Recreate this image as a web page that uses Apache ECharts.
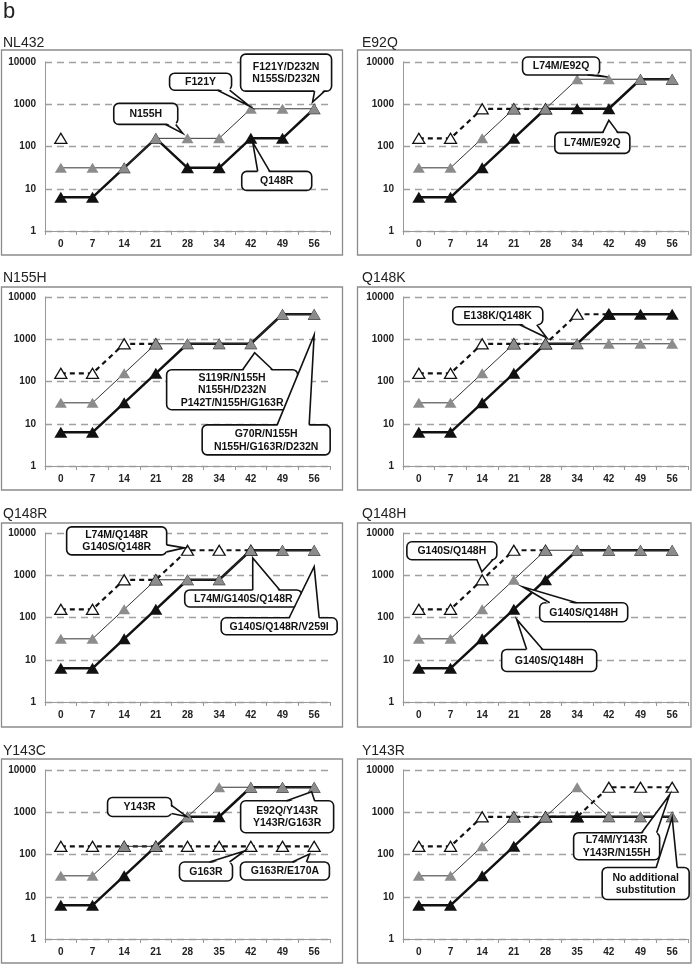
<!DOCTYPE html>
<html>
<head>
<meta charset="utf-8">
<script src="https://cdn.jsdelivr.net/npm/echarts@6/dist/echarts.min.js"></script>
<style>
  html, body { margin: 0; padding: 0; background: #fff; }
  #chart { width: 700px; height: 964px; }
</style>
</head>
<body>
<div id="chart"></div>
<script>
// x categories (days)
const days = ["0", "7", "14", "21", "28", "34", "42", "49", "56"];
const days35 = ["0", "7", "14", "21", "28", "35", "42", "49", "56"];
const panelTitles = ["NL432", "E92Q", "N155H", "Q148K", "Q148R", "Q148H", "Y143C", "Y143R"];
const panelDays = [days, days, days, days, days, days, days35, days35];
const yTicks = [1, 10, 100, 1000, 10000];

// black filled triangles, thick solid line
const solidBlack = [
  [6.25, 6.25, 31.25, 156, 31.25, 31.25, 156, 156, 781],
  [6.25, 6.25, 31.25, 156, 781, 781, 781, 3906, 3906],
  [6.25, 6.25, 31.25, 156, 781, 781, 781, 3906, 3906],
  [6.25, 6.25, 31.25, 156, 781, 781, 3906, 3906, 3906],
  [6.25, 6.25, 31.25, 156, 781, 781, 3906, 3906, 3906],
  [6.25, 6.25, 31.25, 156, 781, 3906, 3906, 3906, 3906],
  [6.25, 6.25, 31.25, 156, 781, 781, 3906, 3906, 3906],
  [6.25, 6.25, 31.25, 156, 781, 781, 781, 781, 781]
];
// grey filled triangles, thin solid line
const solidGray = [
  [31.25, 31.25, 31.25, 156, 156, 156, 781, 781, 781],
  [31.25, 31.25, 156, 781, 781, 3906, 3906, 3906, 3906],
  [31.25, 31.25, 156, 781, 781, 781, 781, 3906, 3906],
  [31.25, 31.25, 156, 781, 781, 781, 781, 781, 781],
  [31.25, 31.25, 156, 781, 781, 781, 3906, 3906, 3906],
  [31.25, 31.25, 156, 781, 3906, 3906, 3906, 3906, 3906],
  [31.25, 31.25, 156, 156, 781, 3906, 3906, 3906, 3906],
  [31.25, 31.25, 156, 781, 781, 3906, 781, 781, 781]
];
// open triangles, dashed line
const dashedOpen = [
  [156, null, null, null, null, null, null, null, null],
  [156, 156, 781, 781, 781, null, null, null, null],
  [156, 156, 781, 781, null, null, null, null, null],
  [156, 156, 781, 781, 781, 3906, 3906, null, null],
  [156, 156, 781, 781, 3906, 3906, 3906, null, null],
  [156, 156, 781, 3906, 3906, null, null, null, null],
  [156, 156, 156, 156, 156, 156, 156, 156, 156],
  [156, 156, 781, 781, 781, 781, 3906, 3906, 3906]
];

// callout labels: anchor [category index, value], box and wedge base relative to the anchor
const callouts = [
  { panel: 0, text: "N155H", at: [3.85, 204], box: [-69, -30, 64, 21], base: [[-17, -9], [-7, -9]] },
  { panel: 0, text: "F121Y", at: [5.96, 900], box: [-80, -33, 62, 17], base: [[-32, -16], [-20, -16]] },
  { panel: 0, text: "F121Y/D232N\nN155S/D232N", at: [7.95, 1120], box: [-72, -48, 91, 37], base: [[2, -11], [12, -11]] },
  { panel: 0, text: "Q148R", at: [6.06, 125], box: [-11, 29, 70, 19], base: [[5, 29], [17, 29]] },
  { panel: 1, text: "L74M/E92Q", at: [5.96, 4400], box: [-85, -20, 77, 18], base: [[-20, -2], [-11, -2]] },
  { panel: 1, text: "L74M/E92Q", at: [6, 415], box: [-54, 12, 75, 21], base: [[-6, 12], [9, 12]] },
  { panel: 2, text: "S119R/N155H\nN155H/D232N\nP142T/N155H/G163R", at: [6.12, 480], box: [-88, 17, 131, 40], base: [[-12, 17], [18, 17]] },
  { panel: 2, text: "G70R/N155H\nN155H/G163R/D232N", at: [8.08, 1270], box: [-112, 90, 128, 30], base: [[-37, 90], [-5, 90]] },
  { panel: 3, text: "E138K/Q148K", at: [4.04, 1085], box: [-94, -31, 90, 18], base: [[-27, -13], [-10, -13]] },
  { panel: 4, text: "L74M/Q148R\nG140S/Q148R", at: [3.91, 4450], box: [-118, -21, 100, 28], base: [[-18, -3], [-18, 4]] },
  { panel: 4, text: "L74M/G140S/Q148R", at: [6.06, 2570], box: [-68, 32, 117, 17], base: [[0, 32], [27, 32]] },
  { panel: 4, text: "G140S/Q148R/V259I", at: [8.01, 1590], box: [-93, 51, 116, 17], base: [[-25, 51], [5, 51]] },
  { panel: 5, text: "G140S/Q148H", at: [1.99, 1210], box: [-75, -30, 90, 18], base: [[-5, -12], [11, -12]] },
  { panel: 5, text: "G140S/Q148H", at: [3.28, 535], box: [17, 16, 88, 19], base: [[27, 16], [54, 16]] },
  { panel: 5, text: "G140S/Q148H", at: [3.09, 90], box: [-15, 30, 95, 22], base: [[10, 30], [26, 30]] },
  { panel: 6, text: "Y143R", at: [3.97, 795], box: [-79, -19, 64, 19], base: [[-15, -11], [-15, -3]] },
  { panel: 6, text: "E92Q/Y143R\nY143R/G163R", at: [7.92, 3055], box: [-71, 9, 93, 32], base: [[-25, 9], [3, 9]] },
  { panel: 6, text: "G163R", at: [5.8, 121], box: [-65, 11, 53, 19], base: [[-35, 11], [-15, 11]] },
  { panel: 6, text: "G163R/E170A", at: [7.85, 103], box: [-69, 8, 89, 18], base: [[-17, 8], [-3, 8]] },
  { panel: 7, text: "L74M/Y143R\nY143R/N155H", at: [7.92, 2600], box: [-96, 38, 86, 27], base: [[-28, 38], [-13, 38]] },
  { panel: 7, text: "No additional\nsubstitution", at: [8.01, 754], box: [-70, 50, 87, 32], base: [[-16, 50], [5, 50]] }
];

const FONT = '"Liberation Sans", Arial, sans-serif';
const colLeft = [45, 403];
const rowTop = [62, 297, 533, 770];
const frameX = [[1.5, 342.5], [357.5, 691]];
const frameY = [[50, 255], [287, 490], [523, 727], [759, 963]];

const chart = echarts.init(document.getElementById("chart"));

const grids = [], xAxes = [], yAxes = [], series = [], titles = [];
titles.push({ text: "b", left: 3, top: 1, padding: 0,
  textStyle: { fontSize: 22, fontWeight: "normal", color: "#222", fontFamily: FONT } });

for (let p = 0; p < 8; p++) {
  const col = p % 2, row = Math.floor(p / 2);
  grids.push({ left: colLeft[col], top: rowTop[row], width: 285, height: 169 });
  titles.push({
    text: panelTitles[p], left: col ? 362 : 3, top: rowTop[row] - 26, padding: 0,
    textStyle: { fontSize: 14, fontWeight: "normal", color: "#222", fontFamily: FONT }
  });
  xAxes.push({
    type: "category", gridIndex: p, data: panelDays[p], boundaryGap: true,
    axisLine: { lineStyle: { color: "#999", width: 1 } },
    axisTick: { show: true, length: 4, interval: 0, lineStyle: { color: "#999" } },
    axisLabel: { color: "#222", fontWeight: "bold", fontSize: 10, fontFamily: FONT, margin: 8, interval: 0 },
    splitLine: { show: false }
  });
  yAxes.push({
    type: "log", logBase: 10, gridIndex: p, min: yTicks[0], max: yTicks[yTicks.length - 1],
    axisLine: { show: true, lineStyle: { color: "#999", width: 1 } },
    axisTick: { show: false },
    axisLabel: { color: "#222", fontWeight: "bold", fontSize: 10, fontFamily: FONT, margin: 9,
      formatter: v => String(Math.round(v)) },
    splitLine: { show: true, lineStyle: { color: "#a0a0a0", width: 1.3, type: [7, 5] } }
  });
  series.push({
    type: "line", xAxisIndex: p, yAxisIndex: p, data: dashedOpen[p],
    symbol: "triangle", symbolSize: [12, 10], showSymbol: true, connectNulls: false,
    itemStyle: { color: "#fff", borderColor: "#111", borderWidth: 1.3 },
    lineStyle: { color: "#111", width: 2.2, type: [5, 4] }
  });
  series.push({
    type: "line", xAxisIndex: p, yAxisIndex: p, data: solidBlack[p],
    symbol: "triangle", symbolSize: [13, 11], showSymbol: true,
    itemStyle: { color: "#111" },
    lineStyle: { color: "#111", width: 2.5 }
  });
  series.push({
    type: "line", xAxisIndex: p, yAxisIndex: p, data: solidGray[p],
    symbol: "triangle", symbolSize: [12, 10], showSymbol: true,
    itemStyle: { color: "#8c8c8c" },
    lineStyle: { color: "#333", width: 1 }
  });
}

chart.setOption({
  animation: false,
  backgroundColor: "#fff",
  title: titles,
  grid: grids,
  xAxis: xAxes,
  yAxis: yAxes,
  series: series
});

// pixel position of an anchor, allowing fractional category index
function anchorPixel(p, idx, val) {
  const i0 = Math.floor(idx), i1 = Math.min(i0 + 1, 8);
  const a = chart.convertToPixel({ gridIndex: p }, [i0, val]);
  const b = chart.convertToPixel({ gridIndex: p }, [i1, val]);
  return [a[0] + (idx - i0) * (b[0] - a[0]), a[1]];
}

const elements = [];
// panel frames
for (let p = 0; p < 8; p++) {
  const col = p % 2, row = Math.floor(p / 2);
  elements.push({
    type: "rect", z: 1,
    shape: { x: frameX[col][0], y: frameY[row][0], width: frameX[col][1] - frameX[col][0], height: frameY[row][1] - frameY[row][0] },
    style: { fill: null, stroke: "#8c8c8c", lineWidth: 1.3 }
  });
}
// callouts
callouts.forEach(c => {
  const t = anchorPixel(c.panel, c.at[0], c.at[1]);
  const bx = t[0] + c.box[0], by = t[1] + c.box[1], bw = c.box[2], bh = c.box[3];
  const b1 = [t[0] + c.base[0][0], t[1] + c.base[0][1]];
  const b2 = [t[0] + c.base[1][0], t[1] + c.base[1][1]];
  const inward = pt => {
    if (Math.abs(pt[1] - by) < 1) return [pt[0], pt[1] + 2];
    if (Math.abs(pt[1] - (by + bh)) < 1) return [pt[0], pt[1] - 2];
    if (Math.abs(pt[0] - bx) < 1) return [pt[0] + 2, pt[1]];
    return [pt[0] - 2, pt[1]];
  };
  elements.push({ type: "rect", z: 100, shape: { x: bx, y: by, width: bw, height: bh, r: 5 },
    style: { fill: "#fff", stroke: "#111", lineWidth: 1.6 } });
  elements.push({ type: "polygon", z: 101, shape: { points: [inward(b1), t, inward(b2)] },
    style: { fill: "#fff", stroke: null } });
  elements.push({ type: "polyline", z: 102, shape: { points: [b1, t, b2] },
    style: { fill: null, stroke: "#111", lineWidth: 1.6 } });
  elements.push({ type: "text", z: 103, x: bx + bw / 2, y: by + bh / 2 + 0.5,
    style: { text: c.text, font: "bold 10.5px " + FONT, fill: "#111", align: "center", verticalAlign: "middle", lineHeight: 12.5 } });
});

chart.setOption({ graphic: { elements: elements } });
</script>
</body>
</html>
